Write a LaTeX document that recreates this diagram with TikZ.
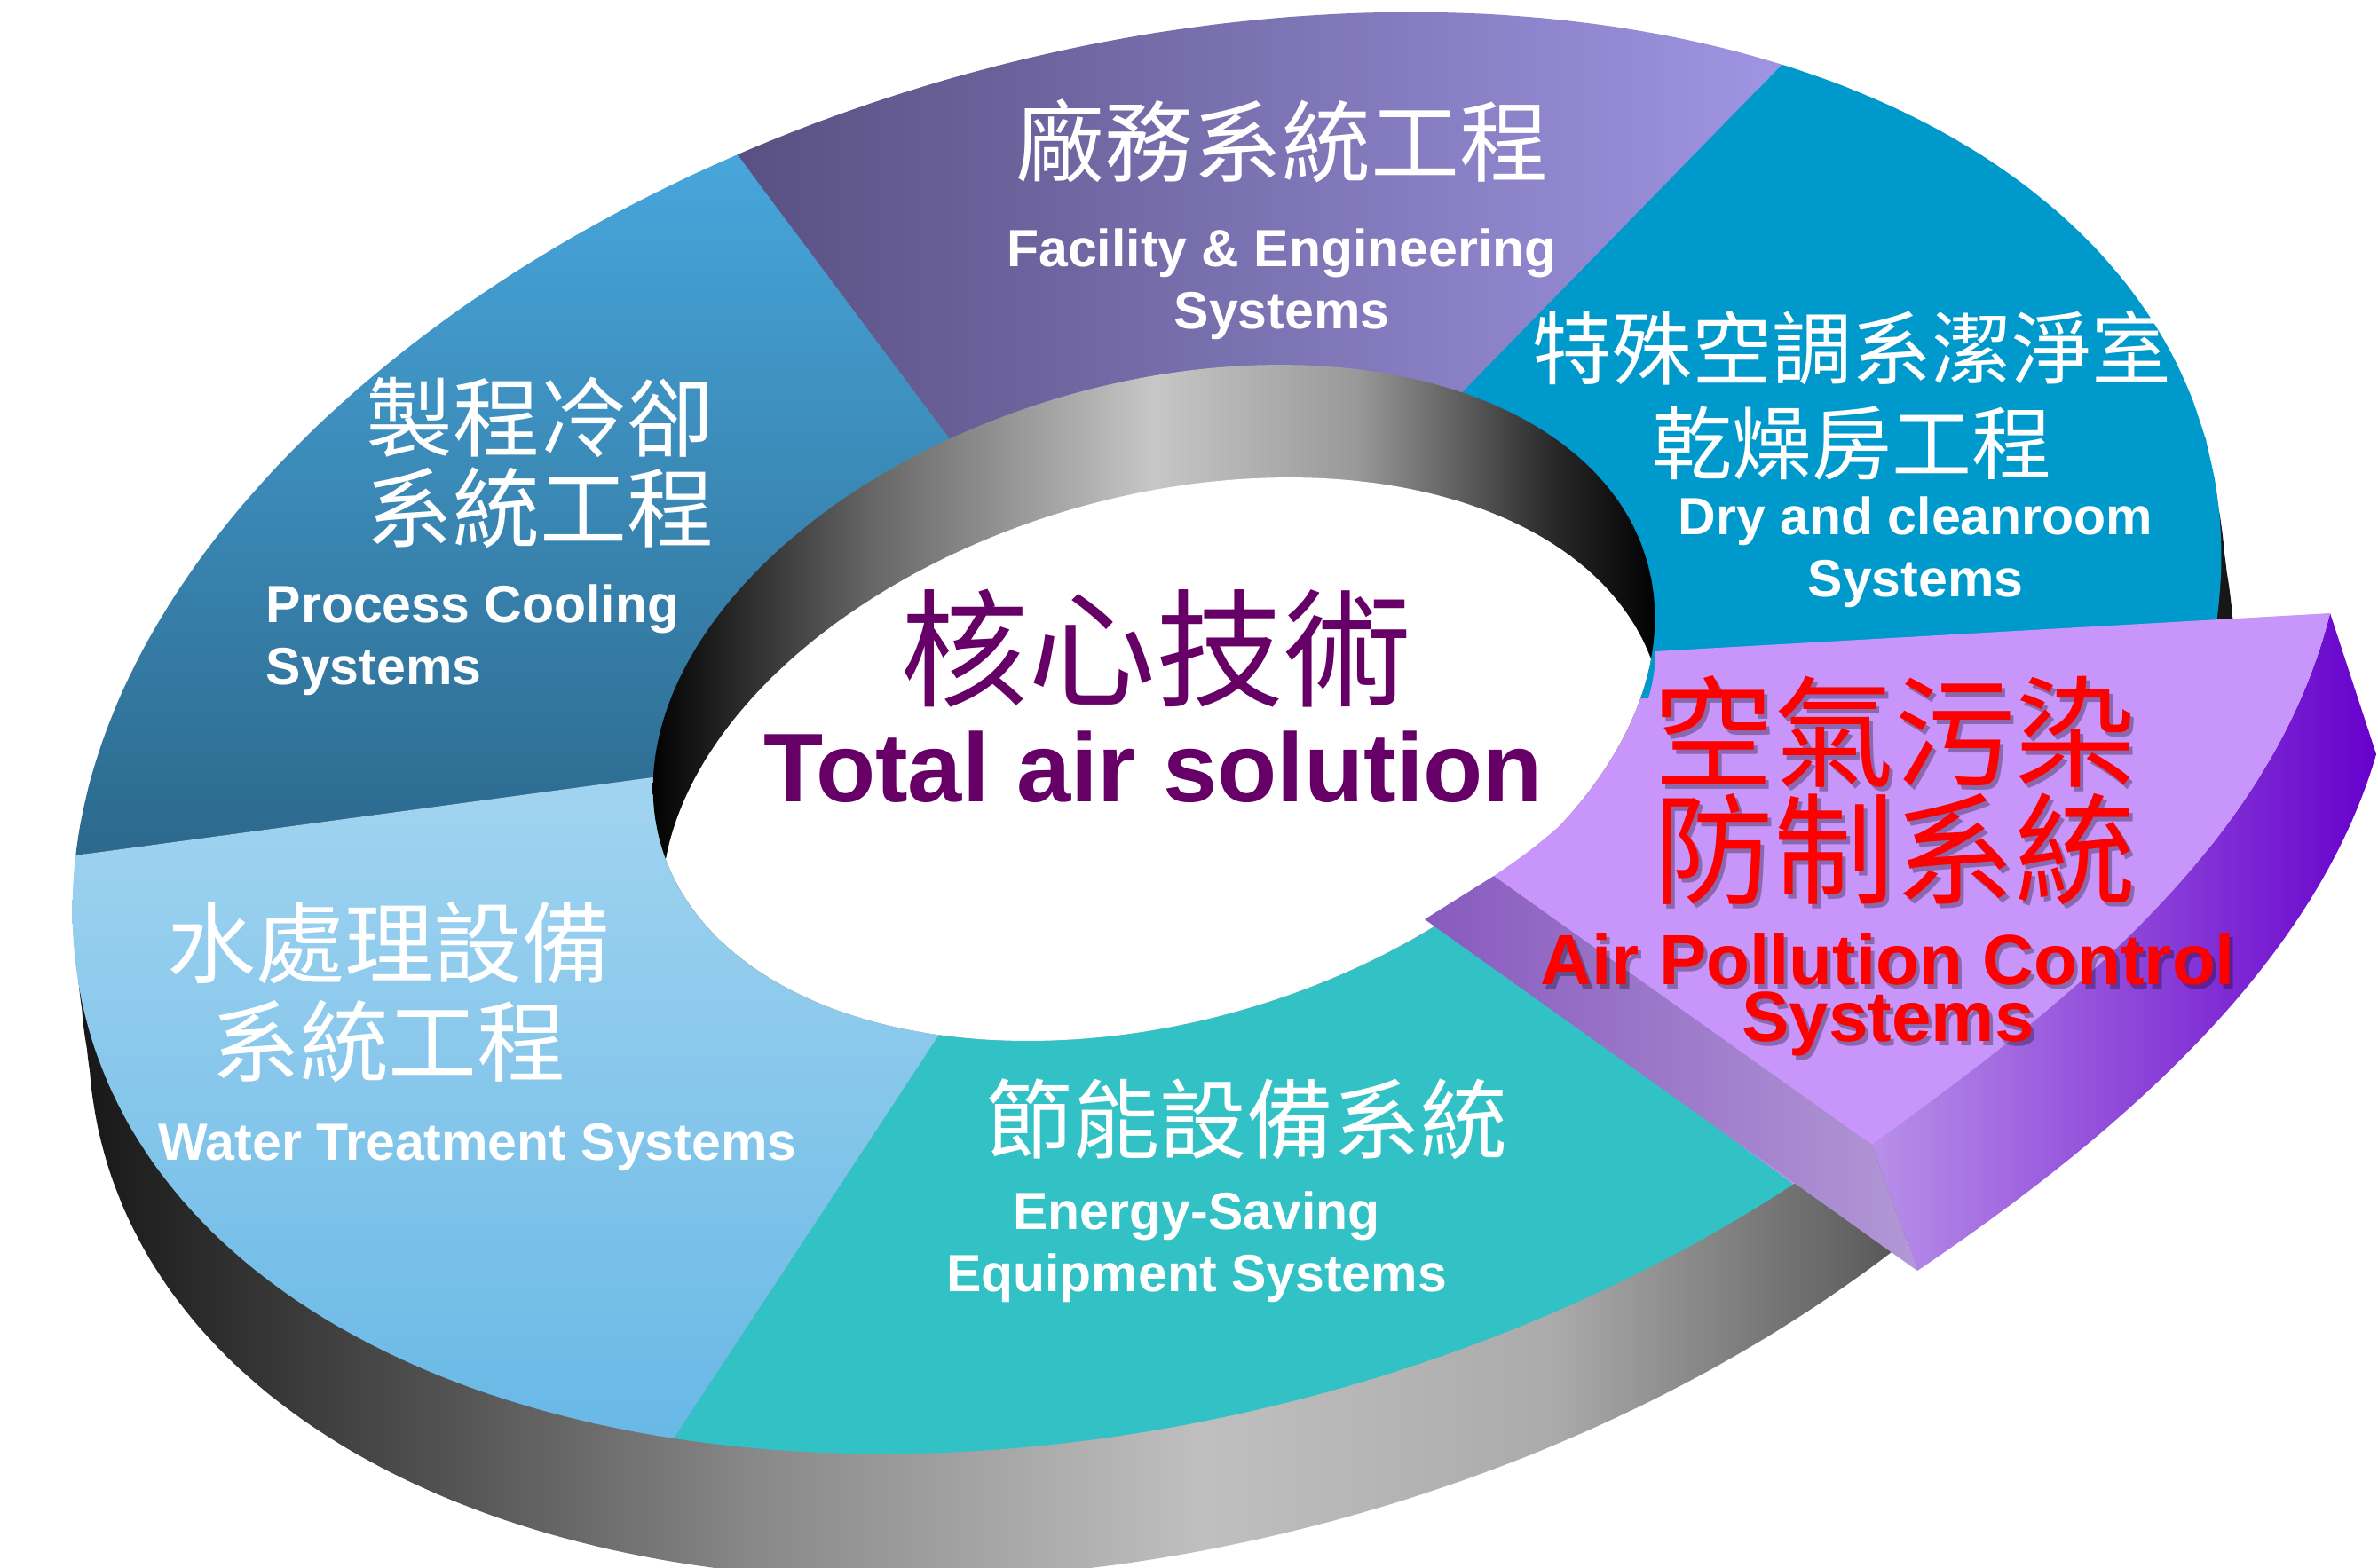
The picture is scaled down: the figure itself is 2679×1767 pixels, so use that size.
\documentclass[tikz,border=0pt]{standalone}
\usepackage{fontspec}
\setsansfont{Liberation Sans}
\newfontfamily\cjk{Noto Sans CJK TC}
\usetikzlibrary{calc}

\definecolor{coolTop}{RGB}{72,168,222}
\definecolor{coolBot}{RGB}{44,104,140}
\definecolor{facL}{RGB}{88,80,130}
\definecolor{facR}{RGB}{160,150,228}
\definecolor{dryBlue}{RGB}{0,153,204}
\definecolor{waterTop}{RGB}{162,212,240}
\definecolor{waterBot}{RGB}{104,184,230}
\definecolor{energyTeal}{RGB}{50,193,196}
\definecolor{apTop}{RGB}{200,150,250}
\definecolor{apSideL}{RGB}{136,90,190}
\definecolor{apSideR}{RGB}{178,152,214}
\definecolor{apFaceL}{RGB}{184,144,232}
\definecolor{apFaceR}{RGB}{102,0,204}
\definecolor{corePurple}{RGB}{102,0,102}

\pgfdeclarehorizontalshading{bandshade}{100bp}{color(0bp)=(black); color(25bp)=(black!92); color(34bp)=(black!67); color(41bp)=(black!46); color(51bp)=(black!25); color(59bp)=(black!33); color(66bp)=(black!62); color(72bp)=(black!90); color(100bp)=(black)}
\pgfdeclarehorizontalshading{wallshade}{100bp}{color(0bp)=(black); color(25bp)=(black); color(36bp)=(black!60); color(50bp)=(black!22); color(60bp)=(black!40); color(70bp)=(black!85); color(75bp)=(black); color(100bp)=(black)}

% rotated ellipse as a plot: centre x, centre y, half axes a, b, tilt
\newcommand\ringell[5]{plot[domain=0:360,samples=100,smooth cycle,variable=\t]({#1+#3*cos(\t)*cos(#5)-#4*sin(\t)*sin(#5)},{#2-#3*cos(\t)*sin(#5)-#4*sin(\t)*cos(#5)})}

\tikzset{
  en/.style={text=white, align=center, inner sep=0pt, font=\sffamily\bfseries\fontsize{14.75}{17.5}\selectfont},
  cn/.style={text=white, align=center, inner sep=0pt},
}

\begin{document}
\begin{tikzpicture}[x=0.25pt, y=-0.25pt]

  %% ════ outer side wall ════
  \begin{scope}
    \clip \ringell{1297}{862}{1238}{770}{15.5} \ringell{1301}{897}{1238}{770}{15.5}
          \ringell{1306}{933}{1238}{770}{15.5} \ringell{1310}{968}{1238}{770}{15.5};
    \shade[shading=bandshade] (70,0) rectangle (2540,1767);
  \end{scope}

  %% ════ top face, six sectors ════
  \coordinate (C) at (1298,800);
  \coordinate (d1) at (77,965);    % water / process
  \coordinate (d2) at (829,172);   % process / facility
  \coordinate (d3) at (2023,57);   % facility / dry
  \coordinate (d4) at (2600,770);  % dry / air (hidden)
  \coordinate (d5) at (2006,1324); % air / energy
  \coordinate (d6) at (761,1618);  % energy / water
  \begin{scope}
    \clip \ringell{1292}{826}{1238}{770}{15.5};
    \begin{scope}
      \clip (C) -- ($(C)!3!(d1)$) -- ($(C)!3!(d2)$) -- cycle;
      \shade[top color=coolTop, bottom color=coolBot] (60,150) rectangle (1110,970);
    \end{scope}
    \begin{scope}
      \clip (C) -- ($(C)!3!(d2)$) -- ($(C)!3!(d3)$) -- cycle;
      \shade[left color=facL, right color=facR] (820,0) rectangle (2030,500);
    \end{scope}
    \fill[dryBlue] (C) -- ($(C)!3!(d3)$) -- ($(C)!3!(d4)$) -- cycle;
    \fill[apTop] (C) -- ($(C)!3!(d4)$) -- ($(C)!3!(d5)$) -- cycle;
    \fill[energyTeal] (C) -- ($(C)!3!(d5)$) -- ($(C)!3!(d6)$) -- cycle;
    \begin{scope}
      \clip (C) -- ($(C)!3!(d6)$) -- ($(C)!3!(d1)$) -- cycle;
      \shade[top color=waterTop, bottom color=waterBot] (60,870) rectangle (1070,1625);
    \end{scope}
  \end{scope}

  %% ════ centre hole: inner wall + see-through ════
  \begin{scope}
    \clip \ringell{1300}{792}{578}{360}{16};
    \shade[shading=wallshade] (730,400) rectangle (1870,1190);
    \fill[white] \ringell{1310}{919}{578}{360}{16};
  \end{scope}

  %% ════ raised sector: air pollution ════
  \coordinate (apA) at (1865,734);
  \coordinate (apB) at (2625,691);
  \coordinate (apC) at (2677,850);
  \coordinate (apD) at (2160,1432);
  \coordinate (apE) at (2109,1290);
  \coordinate (apF) at (1683,987);
  \coordinate (apG) at (1605,1036);
  \shade[left color=apSideL, right color=apSideR] (apF) -- (apE) -- (apD) -- (apG) -- cycle;
  \shade[left color=apFaceL, right color=apFaceR] (apB) -- (apC) .. controls (2610,1080) and (2400,1270) .. (apD)
        -- (apE) .. controls (2330,1130) and (2560,950) .. (apB) -- cycle;
  \fill[apTop] (apA) -- (apB) .. controls (2560,950) and (2330,1130) .. (apE) -- (apF)
        .. controls (1800,910) and (1865,820) .. (apA) -- cycle;

  %% ════ labels ════
  \node[cn, font=\cjk\fontsize{25}{26}\selectfont] (fac-cn) at (1444,159) {廠務系統工程};
  \node[en] (fac-en) at (1444,320) {Facility \& Engineering\\Systems};

  \node[cn, font=\cjk\fontsize{22.5}{26.75}\selectfont] (dry-cn) at (2086,446) {特殊空調系潔淨室\\乾燥房工程};
  \node[en] (dry-en) at (2158,622) {Dry and cleanroom\\Systems};

  \node[cn, font=\cjk\fontsize{24.5}{25.5}\selectfont] (pc-cn) at (608,521) {製程冷卻\\系統工程};
  \node[en, align=left, anchor=west] (pc-en) at (299,721) {Process Cooling\\Systems};

  \node[cn, font=\cjk\fontsize{25}{27.75}\selectfont] (wt-cn) at (438,1118) {水處理設備\\系統工程};
  \node[en] (wt-en) at (538,1293) {Water Treatment Systems};

  \node[cn, font=\cjk\fontsize{24.5}{26}\selectfont] (es-cn) at (1404,1261) {節能設備系統};
  \node[en] (es-en) at (1348,1405) {Energy-Saving\\Equipment Systems};

  \node[cn, text=corePurple, font=\cjk\fontsize{36}{40}\selectfont] (core-cn) at (1302,731) {核心技術};
  \node[en, text=corePurple, font=\sffamily\bfseries\fontsize{27.5}{30}\selectfont] (core-en) at (1299,864) {Total air solution};

  %% red title with its soft drop shadow
  \node[cn, text=black, opacity=0.3, font=\cjk\fontsize{34}{33}\selectfont] (ap-cn-sh) at (2138,896) {空氣污染\\防制系統};
  \node[cn, text=red, font=\cjk\fontsize{34}{33}\selectfont] (ap-cn) at (2134,891) {空氣污染\\防制系統};
  \node[en, text=black, opacity=0.3, font=\sffamily\bfseries\fontsize{20}{16}\selectfont] (ap-en-sh) at (2131,1126) {Air Pollution Control\\Systems};
  \node[en, text=red, font=\sffamily\bfseries\fontsize{20}{16}\selectfont] (ap-en) at (2127,1121) {Air Pollution Control\\Systems};

  \pgfresetboundingbox
  \path[use as bounding box] (0,0) rectangle (2679,1767);
\end{tikzpicture}
\end{document}
